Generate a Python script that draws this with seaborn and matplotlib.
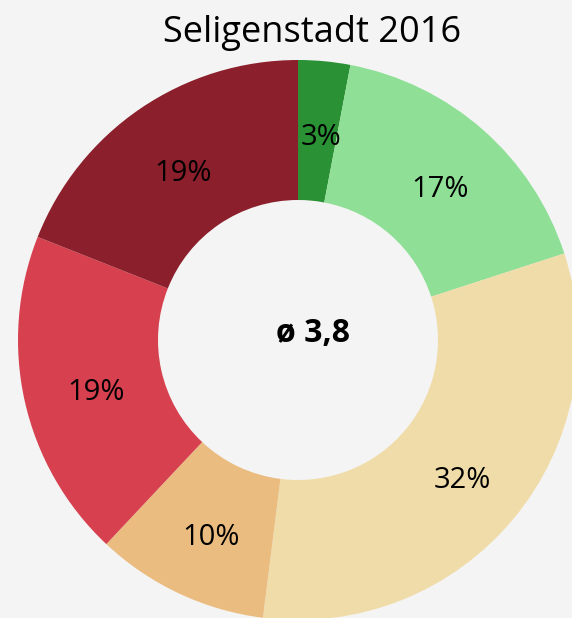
import seaborn as sns
import matplotlib.pyplot as plt

# Shares per grade, clockwise from 12 o'clock
grades = ['1', '2', '3', '4', '5', '6']
shares = [3, 17, 32, 10, 19, 19]
colors = ['#2a9135', '#8fdf97', '#f0dca8', '#ebbc7f', '#d6404f', '#8b1f2b']
title = 'Seligenstadt 2016'
center_text = 'ø 3,8'

sns.set_style('white')
plt.rcParams['font.family'] = ['Open Sans', 'DejaVu Sans']
plt.rcParams['text.color'] = 'black'

fig = plt.figure(figsize=(5.72, 6.18), dpi=100)
fig.patch.set_facecolor('#f4f4f4')
ax = fig.add_axes([0, 0, 1, 1])
ax.set_facecolor('#f4f4f4')

wedges, texts, autotexts = ax.pie(
    shares, colors=colors, startangle=90, counterclock=False,
    autopct='%.0f%%', pctdistance=0.75,
    wedgeprops=dict(width=0.5, linewidth=0),
    textprops=dict(fontsize=21, color='black'))

# nudge the labels a bit lower, like the original
for t in autotexts:
    x, y = t.get_position()
    t.set_position((x + 0.01, y - 0.025))

ax.text(0.055, 0.025, center_text, ha='center', va='center',
        fontsize=23, fontweight='bold')

# scale: 1 data unit = 280 px, centre at (298, 340) from top-left
ax.set_xlim(-298 / 280, (572 - 298) / 280)
ax.set_ylim(-(618 - 340) / 280, 340 / 280)
ax.set_aspect('auto')
ax.axis('off')

fig.text(0.545, 0.946, title, ha='center', va='center', fontsize=26)

fig.savefig('out.png', dpi=100, facecolor=fig.get_facecolor())
